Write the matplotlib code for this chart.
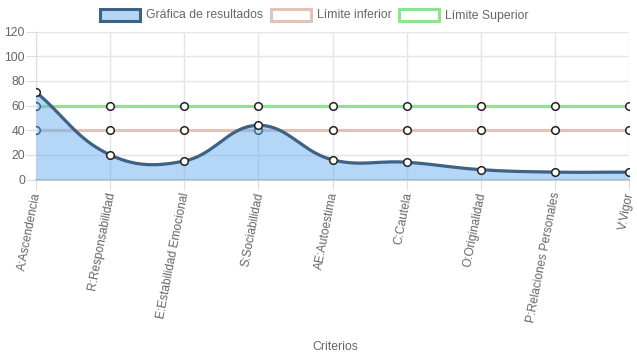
import matplotlib.pyplot as plt
import numpy as np
from matplotlib.patches import Rectangle

plt.rcParams['font.family'] = ['Liberation Sans', 'DejaVu Sans']

categorias = ['A:Ascendencia', 'R:Responsabilidad', 'E:Estabilidad Emocional',
              'S:Sociabilidad', 'AE:Autoestima', 'C:Cautela', 'O:Originalidad',
              'P:Relaciones Personales', 'V:Vigor']
resultados = [71, 20, 15, 44, 16, 14, 8, 6, 6]
limite_inferior = [40, 40, 40, 40, 40, 40, 40, 40, 40]
limite_superior = [60, 60, 60, 60, 60, 60, 60, 60, 60]

c_result = '#3d6283'
c_fill = (0.39, 0.67, 0.94, 0.48)
c_inf = '#e2c3b8'
c_sup = '#8ee48e'
c_text = '#666666'


def curva(xs, ys, sx=74.2, sy=1.23, t=0.4, n=40):
    # spline tipo Chart.js (tension 0.4), calculada en pixeles
    px = np.array(xs, float) * sx
    py = np.array(ys, float) * sy
    m = len(px)
    cp_prev = np.zeros((m, 2))
    cp_next = np.zeros((m, 2))
    for i in range(m):
        p0 = np.array([px[max(i - 1, 0)], py[max(i - 1, 0)]])
        p1 = np.array([px[i], py[i]])
        p2 = np.array([px[min(i + 1, m - 1)], py[min(i + 1, m - 1)]])
        d01 = np.hypot(*(p1 - p0))
        d12 = np.hypot(*(p2 - p1))
        tot = d01 + d12
        s01 = d01 / tot if tot else 0
        s12 = d12 / tot if tot else 0
        cp_prev[i] = p1 - t * s01 * (p2 - p0)
        cp_next[i] = p1 + t * s12 * (p2 - p0)
    cp_prev[:, 1] = np.clip(cp_prev[:, 1], 0, 120 * sy)
    cp_next[:, 1] = np.clip(cp_next[:, 1], 0, 120 * sy)
    out_x, out_y = [], []
    u = np.linspace(0, 1, n)
    for i in range(m - 1):
        a = np.array([px[i], py[i]])
        b = cp_next[i]
        c = cp_prev[i + 1]
        d = np.array([px[i + 1], py[i + 1]])
        pts = ((1 - u) ** 3)[:, None] * a + (3 * (1 - u) ** 2 * u)[:, None] * b \
            + (3 * (1 - u) * u ** 2)[:, None] * c + (u ** 3)[:, None] * d
        out_x.extend(pts[:, 0] / sx)
        out_y.extend(pts[:, 1] / sy)
    return np.array(out_x), np.array(out_y)


fig = plt.figure(figsize=(6.37, 3.59), dpi=100)
ax = fig.add_axes([36 / 637, 179.5 / 359, 593 / 637, 147.8 / 359])

x = np.arange(len(categorias))

ax.plot(x, limite_superior, color=c_sup, lw=2.3, zorder=3)
ax.plot(x, limite_inferior, color=c_inf, lw=2.3, zorder=3)
ax.scatter(x, limite_superior, s=30, facecolor='white', edgecolor='#222222', lw=1.1, zorder=4)
ax.scatter(x, limite_inferior, s=30, facecolor='white', edgecolor='#222222', lw=1.1, zorder=4)

cx, cy = curva(x, resultados)
ax.fill_between(cx, 0, cy, color=c_fill, lw=0, zorder=5)
ax.plot(cx, cy, color=c_result, lw=2.3, zorder=6, solid_capstyle='round')
ax.scatter(x, resultados, s=30, facecolor='white', edgecolor='#222222', lw=1.1, zorder=7)

ax.set_xlim(0, len(categorias) - 1)
ax.set_ylim(0, 120)
ax.set_yticks(range(0, 121, 20))
ax.set_xticks(x)
ax.set_xticklabels(categorias, rotation=79, ha='right', va='center_baseline',
                   rotation_mode='anchor', fontsize=8.6, color=c_text)
ax.tick_params(axis='y', labelsize=8.8, labelcolor=c_text, length=7, color='#dddddd', pad=1)
ax.tick_params(axis='x', length=7, color='#dddddd', pad=2)
ax.grid(True, color='#e5e5e5', lw=1, zorder=0)
ax.set_axisbelow(True)
for s in ['top', 'right']:
    ax.spines[s].set_visible(False)
ax.spines['left'].set_color('#dddddd')
ax.spines['bottom'].set_color('#cccccc')
ax.spines['bottom'].set_linewidth(1.5)

fig.text(335 / 637, 1 - 347 / 359, 'Criterios', ha='center', va='center',
         fontsize=8.8, color=c_text)

# leyenda al estilo Chart.js
items = [('Gráfica de resultados', c_result, (0.70, 0.84, 0.97)),
         ('Límite inferior', c_inf, 'white'),
         ('Límite Superior', c_sup, 'white')]
lx = [100, 271, 399]
for (txt, ec, fc), x0 in zip(items, lx):
    fig.patches.append(Rectangle((x0 / 637, 1 - 21 / 359), 40 / 637, 12 / 359,
                                 transform=fig.transFigure, facecolor=fc,
                                 edgecolor=ec, lw=2.2))
    fig.text((x0 + 46) / 637, 1 - 15.5 / 359, txt, ha='left', va='center',
             fontsize=8.8, color=c_text)

plt.savefig('out.png', dpi=100)
